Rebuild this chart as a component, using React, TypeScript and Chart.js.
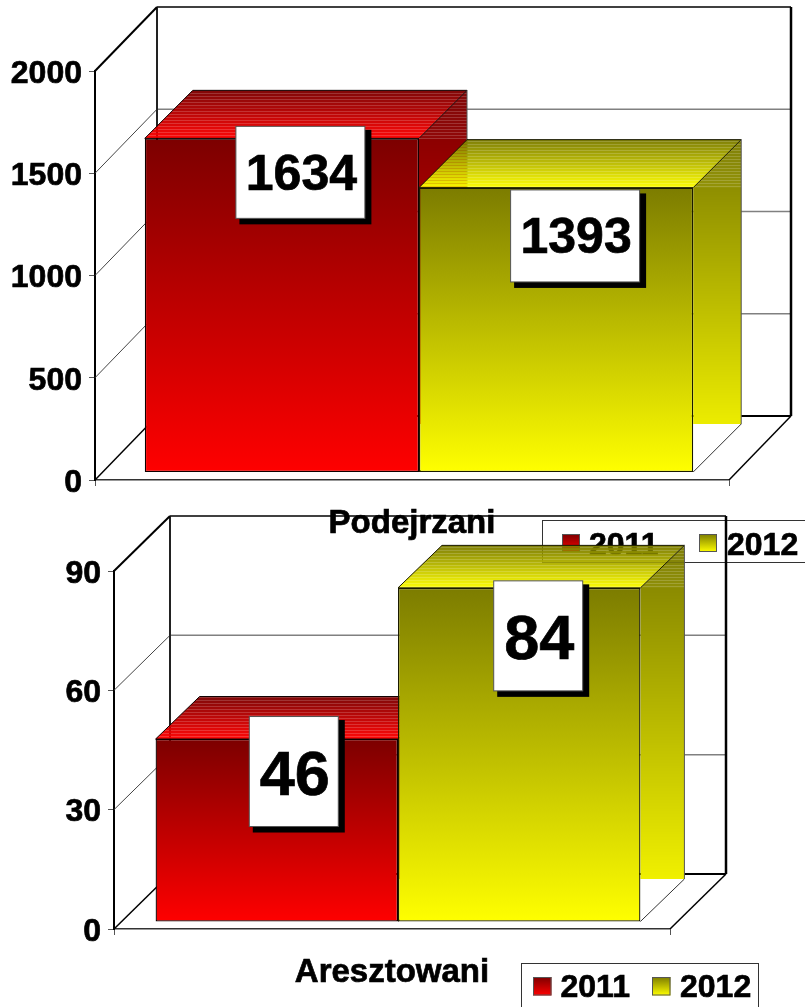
import React, { useEffect, useRef } from "react";
import { Chart, registerables } from "chart.js";

Chart.register(...registerables);

// ---- data ----
const seriesLabels = ["2011", "2012"];
const topCategories = ["Podejrzani"];
const topValues2011 = [1634];
const topValues2012 = [1393];
const topAxisMax = 2000;
const topAxisStep = 500;
const bottomCategories = ["Aresztowani"];
const bottomValues2011 = [46];
const bottomValues2012 = [84];
const bottomAxisMax = 90;
const bottomAxisStep = 30;

// ---- styling ----
const FONT = "'Liberation Sans', Arial, sans-serif";
const DARK = [[124, 0, 0], [124, 124, 0]];
const BRIGHT = [[255, 0, 0], [255, 255, 0]];
const EDGE = ["#100000", "#1a1a00"];
const TEXT_WEIGHT = 0.7;

const mix = (a: number[], b: number[], t: number) => {
  const k = Math.max(0, Math.min(1, t));
  return a.map((v, i) => Math.round(v + (b[i] - v) * k));
};
const rgb = (c: number[], a = 1) => `rgba(${c[0]},${c[1]},${c[2]},${a})`;

function poly(ctx: CanvasRenderingContext2D, pts: number[][]) {
  ctx.beginPath();
  pts.forEach((p, i) => (i ? ctx.lineTo(p[0], p[1]) : ctx.moveTo(p[0], p[1])));
  ctx.closePath();
}

function line(ctx: CanvasRenderingContext2D, x0: number, y0: number, x1: number, y1: number, color: string, width: number) {
  ctx.strokeStyle = color;
  ctx.lineWidth = width;
  ctx.beginPath();
  ctx.moveTo(x0, y0);
  ctx.lineTo(x1, y1);
  ctx.stroke();
}

function heavyText(ctx: CanvasRenderingContext2D, text: string, x: number, y: number) {
  ctx.fillStyle = "#000";
  ctx.strokeStyle = "#000";
  ctx.lineWidth = TEXT_WEIGHT;
  ctx.fillText(text, x, y);
  ctx.strokeText(text, x, y);
}

function rows(
  ctx: CanvasRenderingContext2D,
  shape: number[][],
  y0: number,
  y1: number,
  g0: number,
  g1: number,
  series: number,
  stripeUntil: number
) {
  ctx.save();
  poly(ctx, shape);
  ctx.clip();
  for (let y = Math.floor(y0); y < Math.ceil(y1); y++) {
    const c = mix(DARK[series], BRIGHT[series], (y - g0) / (g1 - g0));
    const stripe = y < stripeUntil && y % 3 === 0;
    ctx.fillStyle = rgb(c, y < stripeUntil ? (stripe ? 0.8 : 0.97) : 1);
    ctx.fillRect(shape[0][0] - 200, y, 800, 1);
  }
  ctx.restore();
}

type Spec = {
  categories: string[];
  values: number[][];
  max: number;
  step: number;
  top: number; // canvas top on page
  height: number;
  padTop: number;
  padRight: number;
  axisWidth: number;
  xAxisHeight: number;
  tickPad: number;
  wall: [number, number];
  barOffset: [number, number];
  barDepth: [number, number];
  barShare: number;
  labelFont: number;
  labelBox: [number, number];
  labelShift: number[][];
  labelTextDy: number;
  legend: {
    left: number;
    top: number;
    right: number;
    bottom: number;
    swatchX: number[];
    swatchY: number;
    swatch: number;
    textX: number[];
    baseline: number;
  };
};

const topSpec: Spec = {
  categories: topCategories,
  values: [topValues2011, topValues2012],
  max: topAxisMax,
  step: topAxisStep,
  top: 0,
  height: 570,
  padTop: 71,
  padRight: 76,
  axisWidth: 95,
  xAxisHeight: 90,
  tickPad: 18,
  wall: [62, 64],
  barOffset: [7, 7.5],
  barDepth: [48, 48],
  barShare: 0.865,
  labelFont: 50,
  labelBox: [129, 92],
  labelShift: [
    [18.5, 34],
    [19, 48.3],
  ],
  labelTextDy: -0.5,
  legend: {
    left: 542,
    top: 520,
    right: 830,
    bottom: 562,
    swatchX: [562, 699],
    swatchY: 534,
    swatch: 18,
    textX: [589, 727],
    baseline: 554.5,
  },
};

const bottomSpec: Spec = {
  categories: bottomCategories,
  values: [bottomValues2011, bottomValues2012],
  max: bottomAxisMax,
  step: bottomAxisStep,
  top: 505,
  height: 502,
  padTop: 66,
  padRight: 135,
  axisWidth: 114,
  xAxisHeight: 78,
  tickPad: 18,
  wall: [56, 55],
  barOffset: [6, 7],
  barDepth: [44, 42.5],
  barShare: 0.872,
  labelFont: 63,
  labelBox: [89, 110],
  labelShift: [
    [17, 32.5],
    [19, 48],
  ],
  labelTextDy: 1,
  legend: {
    left: 521,
    top: 963,
    right: 758,
    bottom: 1030,
    swatchX: [533, 652],
    swatchY: 977,
    swatch: 18.5,
    textX: [560.5, 680],
    baseline: 997,
  },
};

function makeChart(canvas: HTMLCanvasElement, s: Spec) {
  const [ox, oy] = s.barOffset;
  const [bdx, bdy] = s.barDepth;
  const [wdx, wdy] = s.wall;

  const scene = {
    id: "scene3d",
    afterUpdate(chart: any) {
      // the reference's axis numbers sit a little below their tick marks
      chart.scales.y.getLabelItems().forEach((item: any) => {
        item.textOffset += 3;
      });
    },
    beforeDatasetsDraw(chart: any) {
      const ctx: CanvasRenderingContext2D = chart.ctx;
      const { x: xs, y: ys } = chart.scales;
      const L = xs.left, R = xs.right, B = ys.bottom, T = ys.top;

      ctx.save();
      // back wall grid and left wall diagonals, one per axis tick
      ys.ticks.forEach((t: any) => {
        const py = ys.getPixelForValue(t.value);
        if (t.value !== 0 && t.value !== s.max) {
          line(ctx, L + wdx, py - wdy, R + wdx, py - wdy, "#808080", 1.5);
          line(ctx, L, py, L + wdx, py - wdy, "#444", 1);
        }
      });
      // walls
      line(ctx, L + wdx, T - wdy, R + wdx, T - wdy, "#000", 1.5);
      line(ctx, L + wdx, T - wdy, L + wdx, B - wdy, "#222", 2);
      line(ctx, R + wdx, T - wdy, R + wdx, B - wdy, "#000", 2.5);
      line(ctx, L + wdx, B - wdy, R + wdx, B - wdy, "#000", 2);
      line(ctx, L, T, L + wdx, T - wdy, "#000", 2);
      line(ctx, L, B, L + wdx, B - wdy, "#000", 1.5);
      line(ctx, R, B, R + wdx, B - wdy, "#000", 1.5);

      // tops and sides of the bars
      s.values.forEach((_, i) => {
        const el = chart.getDatasetMeta(i).data[0];
        const x0 = el.x - el.width / 2 + ox;
        const x1 = el.x + el.width / 2 + ox;
        const yT = el.y - oy;
        const yB = el.base - oy;
        // floor edge behind the bar
        line(ctx, x1, yB, x1 + bdx, yB - bdy, "#333", 1);
        const side = [
          [x1, yT],
          [x1 + bdx, yT - bdy],
          [x1 + bdx, yB - bdy],
          [x1, yB - bdy],
        ];
        rows(ctx, side, yT - bdy, yB - bdy, yT - bdy, yB, i, yT);
        const topFace = [
          [x0, yT],
          [x0 + bdx, yT - bdy],
          [x1 + bdx, yT - bdy],
          [x1, yT],
        ];
        rows(ctx, topFace, yT - bdy, yT, yT - bdy, yT, i, yT);
        ctx.strokeStyle = EDGE[i];
        ctx.lineWidth = 1;
        poly(ctx, topFace);
        ctx.stroke();
        line(ctx, x1 + bdx, yT - bdy, x1 + bdx, yB - bdy, "#555", 1);
      });
      ctx.restore();

      ctx.save();
      ctx.translate(ox, -oy);
    },
    afterDatasetsDraw(chart: any) {
      const ctx: CanvasRenderingContext2D = chart.ctx;
      ctx.restore();

      // value boxes
      s.values.forEach((vals, i) => {
        const el = chart.getDatasetMeta(i).data[0];
        const cx = el.x + ox + s.labelShift[i][0];
        const cy = el.y - oy + s.labelShift[i][1];
        const [w, h] = s.labelBox;
        const bx = cx - w / 2, by = cy - h / 2;
        ctx.save();
        ctx.fillStyle = "#000";
        ctx.fillRect(bx + 3.5, by + 3.5, w + 3, h + 2.5);
        ctx.fillStyle = "#fff";
        ctx.fillRect(bx, by, w, h);
        ctx.strokeStyle = "#555";
        ctx.lineWidth = 1;
        ctx.strokeRect(bx, by, w, h);
        ctx.font = `bold ${s.labelFont}px ${FONT}`;
        ctx.textAlign = "center";
        ctx.textBaseline = "alphabetic";
        heavyText(ctx, String(vals[0]), cx + 1, cy + 0.355 * s.labelFont + s.labelTextDy);
        ctx.restore();
      });

      // legend
      const lg = s.legend;
      ctx.save();
      ctx.translate(0, -s.top);
      ctx.strokeStyle = "#333";
      ctx.lineWidth = 1;
      ctx.strokeRect(lg.left + 0.5, lg.top + 0.5, lg.right - lg.left, lg.bottom - lg.top);
      seriesLabels.forEach((label, i) => {
        const sx = lg.swatchX[i];
        const g = ctx.createLinearGradient(0, lg.swatchY, 0, lg.swatchY + lg.swatch);
        g.addColorStop(0, rgb(DARK[i]));
        g.addColorStop(1, rgb(BRIGHT[i]));
        ctx.fillStyle = g;
        ctx.fillRect(sx, lg.swatchY, lg.swatch, lg.swatch);
        ctx.strokeStyle = "#555";
        ctx.lineWidth = 1;
        ctx.strokeRect(sx + 0.5, lg.swatchY + 0.5, lg.swatch - 1, lg.swatch - 1);
        ctx.font = `bold 32px ${FONT}`;
        ctx.textAlign = "left";
        ctx.textBaseline = "alphabetic";
        heavyText(ctx, label, lg.textX[i], lg.baseline);
      });
      ctx.restore();
    },
  };

  const frontFill = (i: number) => (c: any) => {
    const { y } = c.chart.scales;
    const y0 = y ? y.getPixelForValue(s.values[i][0]) : NaN;
    const y1 = y ? y.getPixelForValue(0) : NaN;
    if (!Number.isFinite(y0) || !Number.isFinite(y1)) return rgb(BRIGHT[i]);
    const g = c.chart.ctx.createLinearGradient(0, y0, 0, y1);
    g.addColorStop(0, rgb(DARK[i]));
    g.addColorStop(1, rgb(BRIGHT[i]));
    return g;
  };

  return new Chart(canvas, {
    type: "bar",
    data: {
      labels: s.categories,
      datasets: s.values.map((v, i) => ({
        label: seriesLabels[i],
        data: v,
        backgroundColor: frontFill(i),
        borderColor: EDGE[i],
        borderWidth: 1.3,
        borderSkipped: false,
        barPercentage: 1,
        categoryPercentage: s.barShare,
        clip: false,
      })),
    },
    options: {
      responsive: false,
      animation: false,
      devicePixelRatio: 1,
      layout: { padding: { top: s.padTop, right: s.padRight, left: 0, bottom: 0 } },
      plugins: { legend: { display: false }, tooltip: { enabled: false }, title: { display: false } },
      scales: {
        x: {
          grid: { drawOnChartArea: false, drawTicks: true, tickLength: 6, color: "#555", lineWidth: 1 },
          border: { color: "#333", width: 1.5 },
          ticks: {
            color: "#000",
            padding: s.tickPad,
            maxRotation: 0,
            textStrokeColor: "#000",
            textStrokeWidth: TEXT_WEIGHT,
            font: { family: FONT, weight: "bold", size: 33 },
          },
          afterFit: (scale: any) => {
            scale.height = s.xAxisHeight;
          },
        },
        y: {
          min: 0,
          max: s.max,
          grid: { drawOnChartArea: false, drawTicks: true, tickLength: 6, color: "#555", lineWidth: 1 },
          border: { color: "#000", width: 2 },
          ticks: {
            stepSize: s.step,
            color: "#000",
            padding: 7,
            textStrokeColor: "#000",
            textStrokeWidth: TEXT_WEIGHT,
            font: { family: FONT, weight: "bold", size: 32 },
            callback: (v: any) => String(v),
          },
          afterFit: (scale: any) => {
            scale.width = s.axisWidth;
          },
        },
      },
    },
    plugins: [scene],
  } as any);
}

function Panel({ spec }: { spec: Spec }) {
  const ref = useRef<HTMLCanvasElement | null>(null);
  useEffect(() => {
    const chart = makeChart(ref.current as HTMLCanvasElement, spec);
    return () => chart.destroy();
  }, [spec]);
  return (
    <canvas
      ref={ref}
      width={805}
      height={spec.height}
      style={{ position: "absolute", left: 0, top: spec.top, width: 805, height: spec.height, display: "block" }}
    />
  );
}

export default function App() {
  return (
    <div style={{ position: "fixed", left: 0, top: 0, width: 805, height: 1007, overflow: "hidden", background: "#fff" }}>
      <Panel spec={topSpec} />
      <Panel spec={bottomSpec} />
    </div>
  );
}
